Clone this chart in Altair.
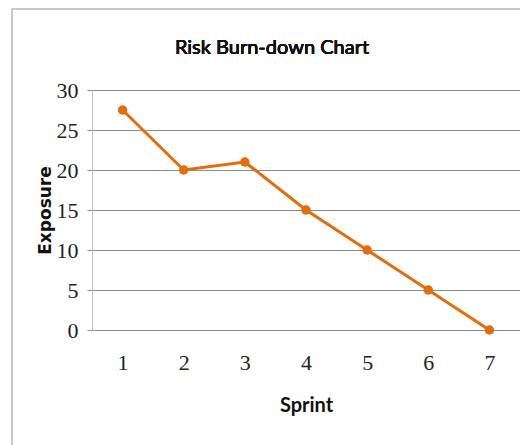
import altair as alt
import pandas as pd

sprints = [1, 2, 3, 4, 5, 6, 7]
exposure = [27.5, 20, 21, 15, 10, 5, 0]
y_ticks = [0, 5, 10, 15, 20, 25, 30]
chart_title = "Risk Burn-down Chart"

df = pd.DataFrame({"Sprint": sprints, "Exposure": exposure})

ORANGE = "#E46C0A"

x_enc = alt.X(
    "Sprint:O",
    title="Sprint",
    scale=alt.Scale(paddingInner=0, paddingOuter=0),
    axis=alt.Axis(
        labelAngle=0,
        labelFont="Liberation Serif",
        labelFontSize=22,
        labelColor="#222222",
        labelPadding=22,
        ticks=False,
        domainColor="#8c8c8c",
        titleFont="Lato",
        titleFontSize=20,
        titleFontWeight="bold",
        titleColor="#111111",
        titlePadding=22,
    ),
)
y_enc = alt.Y(
    "Exposure:Q",
    title="Exposure",
    scale=alt.Scale(domain=[0, 30], nice=False),
    axis=alt.Axis(
        values=y_ticks,
        labelFont="Liberation Serif",
        labelFontSize=22,
        labelColor="#222222",
        labelPadding=9,
        tickSize=5,
        tickColor="#8c8c8c",
        gridColor="#8c8c8c",
        domainColor="#c0c0c0",
        titleFont="DejaVu Sans",
        titleFontSize=17,
        titleFontWeight="bold",
        titleColor="#111111",
        titlePadding=2,
    ),
)

frame_top = alt.Chart(df).mark_rule(stroke="#c8c8c8", strokeWidth=1.5).encode(
    x=alt.value(-80), x2=alt.value(428), y=alt.value(-81.2)
)
frame_left = alt.Chart(df).mark_rule(stroke="#c8c8c8", strokeWidth=1.5).encode(
    x=alt.value(-80), y=alt.value(-81.2), y2=alt.value(360)
)
title = alt.Chart(df).mark_text(
    text=chart_title,
    font="Lato",
    fontSize=20,
    color="#111111",
    align="center",
    baseline="alphabetic",
).encode(x=alt.value(180), y=alt.value(-36))

line = alt.Chart(df).mark_line(color=ORANGE, strokeWidth=3).encode(x=x_enc, y=y_enc)
pts = alt.Chart(df).mark_circle(color=ORANGE, size=90, opacity=1).encode(x=x_enc, y=y_enc)

chart = alt.layer(frame_top, frame_left, title, line, pts).properties(
    width=428,
    height=240,
    background="white",
    autosize=alt.AutoSizeParams(type="none"),
    padding={"left": 84, "top": 82, "right": 0, "bottom": 115},
).configure_view(stroke=None, strokeWidth=0)

chart.save("out.html", embed_options={"renderer": "svg", "actions": False})
